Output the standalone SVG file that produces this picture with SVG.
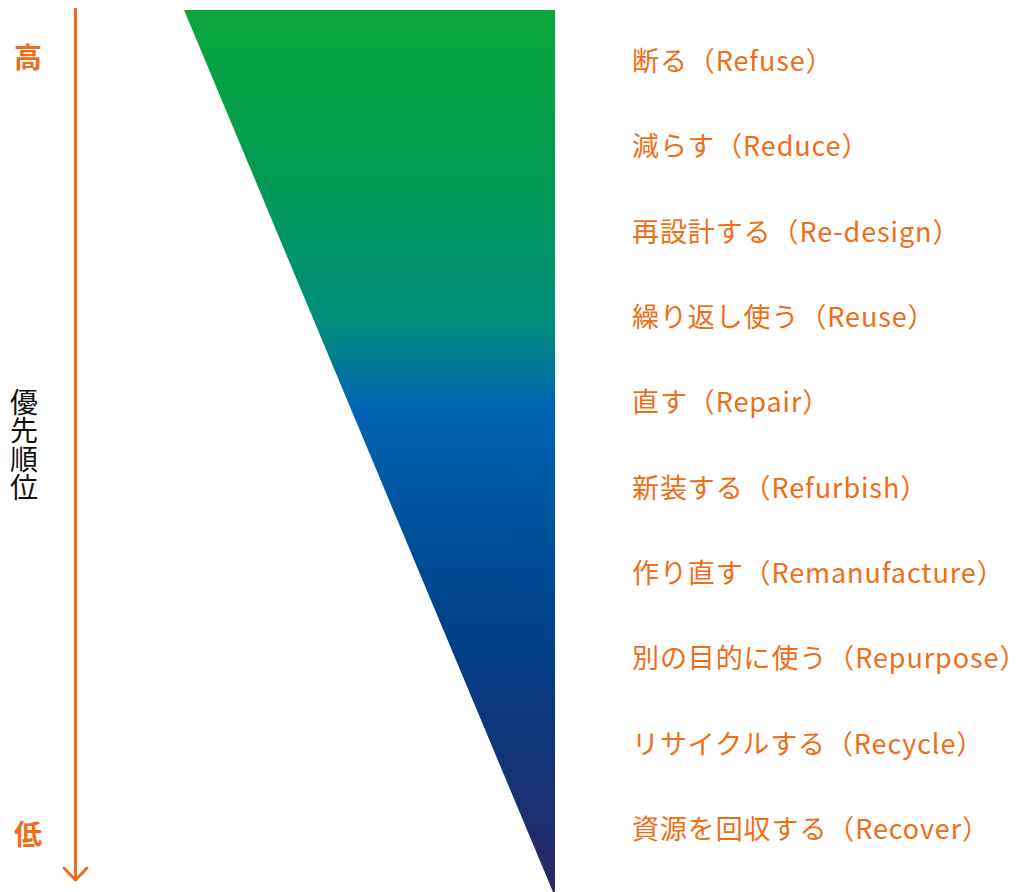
<svg xmlns="http://www.w3.org/2000/svg" width="1018" height="892" viewBox="0 0 1018 892">
<style>
.lbl{font-family:"Noto Sans CJK JP","Noto Sans",sans-serif;font-size:27px;letter-spacing:0.9px;fill:#EE6E17}
.hl{font-family:"Noto Sans CJK JP",sans-serif;font-size:28px;font-weight:bold;fill:#EE6E17;text-anchor:middle}
.v{font-family:"Noto Sans CJK JP",sans-serif;font-size:28px;letter-spacing:0.5px;fill:#111;writing-mode:vertical-rl}
</style>
<defs>
<linearGradient id="g" x1="0" y1="10" x2="0" y2="892" gradientUnits="userSpaceOnUse">
<stop offset="0" stop-color="#0BA63A"/>
<stop offset="0.2" stop-color="#009A55"/>
<stop offset="0.36" stop-color="#008C7C"/>
<stop offset="0.45" stop-color="#0064B2"/>
<stop offset="0.72" stop-color="#003F86"/>
<stop offset="1" stop-color="#2A2768"/>
</linearGradient>
</defs>
<g id="triangle">
<polygon points="184,10 555,10 555,892 553,892" fill="url(#g)"/>
</g>
<g id="connectors">
<line x1="75.5" y1="8" x2="75.5" y2="880" stroke="#EE6E17" stroke-width="3"/>
<polyline points="64,868 75.5,880 87,868" fill="none" stroke="#EE6E17" stroke-width="3" stroke-linecap="round" stroke-linejoin="round"/>
</g>
<g id="axis-labels">
<text class="hl" x="28" y="68">高</text>
<text class="hl" x="28" y="845">低</text>
<text class="v" x="24" y="388">優先順位</text>
</g>
<g id="n1"><text class="lbl" x="632" y="71">断る（Refuse）</text></g>
<g id="n2"><text class="lbl" x="632" y="156">減らす（Reduce）</text></g>
<g id="n3"><text class="lbl" x="632" y="242">再設計する（Re-design）</text></g>
<g id="n4"><text class="lbl" x="632" y="327">繰り返し使う（Reuse）</text></g>
<g id="n5"><text class="lbl" x="632" y="412">直す（Repair）</text></g>
<g id="n6"><text class="lbl" x="632" y="498">新装する（Refurbish）</text></g>
<g id="n7"><text class="lbl" x="632" y="583">作り直す（Remanufacture）</text></g>
<g id="n8"><text class="lbl" x="632" y="668">別の目的に使う（Repurpose）</text></g>
<g id="n9"><text class="lbl" x="632" y="754">リサイクルする（Recycle）</text></g>
<g id="n10"><text class="lbl" x="632" y="839">資源を回収する（Recover）</text></g>
</svg>
